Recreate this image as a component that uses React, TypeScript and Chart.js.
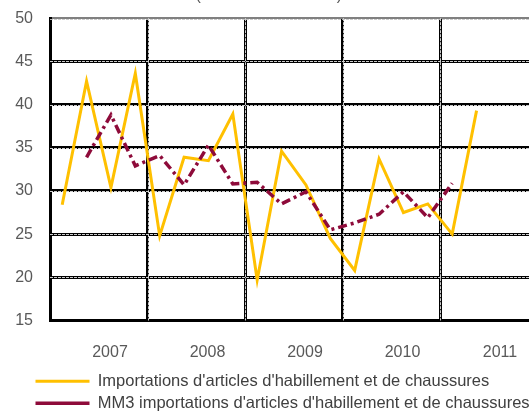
import React, { useEffect, useRef } from 'react';
import { Chart, registerables } from 'chart.js';

Chart.register(...registerables);

// ---- data ----
const titleText = '(en millions de EUR)';
const quarters = [
  '2007T1', '2007T2', '2007T3', '2007T4',
  '2008T1', '2008T2', '2008T3', '2008T4',
  '2009T1', '2009T2', '2009T3', '2009T4',
  '2010T1', '2010T2', '2010T3', '2010T4',
  '2011T1', '2011T2',
];
const yearLabels = ['2007', '2008', '2009', '2010', '2011'];
const importsValues = [
  28.4, 42.7, 30.4, 43.6,
  24.8, 33.9, 33.5, 38.9,
  19.7, 34.6, 30.7, 24.5,
  20.8, 33.7, 27.5, 28.5,
  25.0, 39.3,
];
const mm3Values: (number | null)[] = [
  null, 33.9, 38.8, 32.9,
  34.1, 30.7, 35.3, 30.8,
  31.0, 28.5, 29.9, 25.5,
  26.3, 27.3, 29.9, 26.9,
  30.9, null,
];
const seriesNames = [
  "Importations d'articles d'habillement et de chaussures",
  "MM3 importations d'articles d'habillement et de chaussures",
];
const yMin = 15;
const yMax = 50;
const yStep = 5;
const quartersPerYear = 4;
const xMaxQuarters = 20;

const FONT = '"Liberation Sans", Arial, sans-serif';

const gridOverlay = {
  id: 'gridOverlay',
  afterLayout(chart: any) {
    if (chart.legend) {
      chart.legend.left = 30;
    }
  },
  beforeDatasetsDraw(chart: any) {
    const { ctx, scales } = chart;
    const x = scales.x;
    const y = scales.y;
    const { top, bottom, left, right } = chart.chartArea;
    ctx.save();
    ctx.strokeStyle = 'rgba(215,215,215,0.95)';
    ctx.lineWidth = 1;
    ctx.setLineDash([3, 1]);
    y.ticks.forEach((t: any) => {
      if (t.value > yMin && t.value < yMax) {
        const py = Math.round(y.getPixelForValue(t.value)) + 0.5;
        ctx.beginPath();
        ctx.moveTo(left, py);
        ctx.lineTo(right, py);
        ctx.stroke();
      }
    });
    x.ticks.forEach((t: any) => {
      if (t.value > 0 && t.value < xMaxQuarters) {
        const px = Math.round(x.getPixelForValue(t.value)) + 0.5;
        ctx.beginPath();
        ctx.moveTo(px, top);
        ctx.lineTo(px, bottom);
        ctx.stroke();
      }
    });
    ctx.strokeStyle = 'rgba(200,200,200,0.9)';
    const pt = Math.round(y.getPixelForValue(yMax)) + 1.5;
    ctx.beginPath();
    ctx.moveTo(left, pt);
    ctx.lineTo(right, pt);
    ctx.stroke();
    ctx.restore();
  },
};

export default function App() {
  const ref = useRef<HTMLCanvasElement | null>(null);

  useEffect(() => {
    if (!ref.current) return;
    const chart = new Chart(ref.current, {
      type: 'line',
      data: {
        datasets: [
          {
            label: seriesNames[0],
            data: importsValues.map((v, i) => ({ x: i + 0.5, y: v, q: quarters[i] })),
            borderColor: '#FFC000',
            backgroundColor: '#FFC000',
            borderWidth: 3,
            pointRadius: 0,
            tension: 0,
            order: 1,
          },
          {
            label: seriesNames[1],
            data: mm3Values.map((v, i) => ({ x: i + 0.5, y: v, q: quarters[i] })),
            borderColor: '#8E0B3A',
            backgroundColor: '#8E0B3A',
            borderWidth: 3.5,
            borderDash: [9, 4, 3, 4],
            pointRadius: 0,
            tension: 0,
            spanGaps: false,
            order: 0,
          },
        ],
      } as any,
      options: {
        animation: false,
        responsive: false,
        maintainAspectRatio: false,
        layout: { padding: { left: 0, right: 22.5, top: 0, bottom: 0.5 } },
        plugins: {
          title: {
            display: true,
            text: titleText,
            color: '#595959',
            font: { family: FONT, size: 16, weight: 'normal' },
            padding: { top: 6, bottom: 13 },
          },
          legend: {
            position: 'bottom',
            align: 'start',
            labels: {
              usePointStyle: true,
              pointStyle: 'line',
              pointStyleWidth: 54,
              color: '#404040',
              font: { family: FONT, size: 16.5 },
              padding: 5.5,
              sort: (a: any, b: any) => a.datasetIndex - b.datasetIndex,
            },
          },
          tooltip: { enabled: false },
        },
        scales: {
          x: {
            type: 'linear',
            min: 0,
            max: xMaxQuarters,
            afterFit: (axis: any) => { axis.height = 47; },
            ticks: {
              stepSize: quartersPerYear,
              autoSkip: false,
              maxRotation: 0,
              labelOffset: 60,
              padding: 22,
              color: '#595959',
              font: { family: FONT, size: 16 },
              callback: (v: any) => yearLabels[Math.round(Number(v) / quartersPerYear)] ?? '',
            },
            grid: {
              drawTicks: false,
              color: (c: any) => (c.tick && (c.tick.value === 0 || c.tick.value === xMaxQuarters) ? 'rgba(0,0,0,0)' : '#000000'),
              lineWidth: 3,
            },
            border: { display: true, color: '#000000', width: 3 },
          },
          y: {
            type: 'linear',
            min: yMin,
            max: yMax,
            afterFit: (axis: any) => { axis.width = 50; },
            ticks: {
              stepSize: yStep,
              padding: 17,
              color: '#595959',
              font: { family: FONT, size: 16 },
            },
            grid: {
              drawTicks: false,
              color: (c: any) => {
                const v = c.tick ? c.tick.value : null;
                if (v === yMax) return '#808080';
                if (v === yMin) return 'rgba(0,0,0,0)';
                return '#000000';
              },
              lineWidth: (c: any) => (c.tick && c.tick.value === yMax ? 2 : 3),
            },
            border: { display: true, color: '#000000', width: 3 },
          },
        },
      } as any,
      plugins: [gridOverlay],
    });
    return () => chart.destroy();
  }, []);

  return (
    <div style={{ position: 'absolute', left: 0, top: 0, width: 529, height: 413, overflow: 'hidden', background: '#fff' }}>
      <canvas ref={ref} width={560} height={442} style={{ position: 'absolute', left: 0, top: -20, width: 560, height: 442 }} />
    </div>
  );
}
